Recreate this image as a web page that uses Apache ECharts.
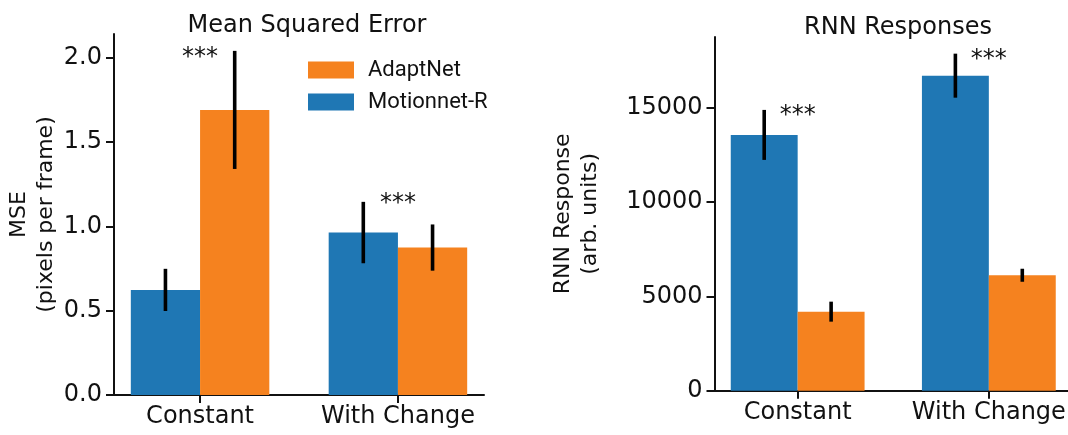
<!DOCTYPE html>
<html><head><meta charset="utf-8">
<script src="https://cdn.jsdelivr.net/npm/echarts@6/dist/echarts.min.js"></script>
<style>html,body{margin:0;padding:0;background:#fff}#c{width:1068px;height:435px}</style>
</head><body><div id="c"></div>
<script>
// ---- data ----
const categories = ['Constant', 'With Change'];
const mseMotionnet = [0.623, 0.963];
const mseMotionnetErr = [0.125, 0.182];
const mseAdaptNet = [1.690, 0.874];
const mseAdaptNetErr = [0.350, 0.137];
const mseStarLevels = [2.0, 1.134];
const rnnMotionnet = [13560, 16700];
const rnnMotionnetErr = [1325, 1167];
const rnnAdaptNet = [4190, 6120];
const rnnAdaptNetErr = [530, 345];
const rnnStarLevels = [14565, 17535];
const mseTicks = [0, 0.5, 1.0, 1.5, 2.0];
const rnnTicks = [0, 5000, 10000, 15000];
const starText = '***';

// ---- style ----
const BLUE = '#1f77b4', ORANGE = '#f5821f', INK = '#111';
const FONT = 'DejaVu Sans';
const BAR_W = 0.35;

function barRender(offset) {
  return function (params, api) {
    const xi = api.value(0), v = api.value(1);
    const p0 = api.coord([xi + offset - BAR_W / 2, 0]);
    const p1 = api.coord([xi + offset + BAR_W / 2, v]);
    return { type: 'rect',
      shape: { x: p0[0], y: p1[1], width: p1[0] - p0[0], height: p0[1] - p1[1] },
      style: { fill: api.visual('color') } };
  };
}
function errRender(offset) {
  return function (params, api) {
    const xi = api.value(0), v = api.value(1), e = api.value(2);
    const a = api.coord([xi + offset, v - e]);
    const b = api.coord([xi + offset, v + e]);
    return { type: 'line', shape: { x1: a[0], y1: a[1], x2: b[0], y2: b[1] },
      style: { stroke: '#000', lineWidth: 3.6 } };
  };
}
function starRender(params, api) {
  const p = api.coord([api.value(0), api.value(1)]);
  return { type: 'text', x: p[0], y: p[1],
    style: { text: starText, fill: INK, font: '24px "' + FONT + '"', textAlign: 'center', textVerticalAlign: 'middle' } };
}
const idx = categories.map((c, i) => i);
function pairs(vals) { return idx.map(i => [i, vals[i]]); }
function triples(vals, errs) { return idx.map(i => [i, vals[i], errs[i]]); }

function xAxis(gi) {
  return { type: 'value', gridIndex: gi, min: -0.435, max: 1.435,
    axisLine: { show: true, onZero: false, lineStyle: { color: INK, width: 2 } },
    axisTick: { show: true, length: 8, lineStyle: { color: INK, width: 2 }, customValues: [0, 1] },
    axisLabel: { customValues: [0, 1], formatter: v => categories[Math.round(v)], color: INK, fontSize: 24, fontFamily: FONT, margin: 10 },
    splitLine: { show: false } };
}
function yAxis(gi, max, ticks, fmt, name, gap) {
  return { type: 'value', gridIndex: gi, min: 0, max: max,
    name: name, nameLocation: 'middle', nameGap: gap,
    nameTextStyle: { color: INK, fontSize: 22, fontFamily: FONT, lineHeight: 27 },
    axisLine: { show: true, onZero: false, lineStyle: { color: INK, width: 2 } },
    axisTick: { show: true, length: 8, lineStyle: { color: INK, width: 2 }, customValues: ticks },
    axisLabel: { customValues: ticks, formatter: fmt, color: INK, fontSize: 24, fontFamily: FONT, margin: 12 },
    splitLine: { show: false } };
}

const chart = echarts.init(document.getElementById('c'), null, { renderer: 'canvas' });
chart.setOption({
  backgroundColor: '#fff',
  animation: false,
  title: [
    { text: 'Mean Squared Error', left: 302, top: 9, textAlign: 'center',
      textStyle: { color: INK, fontSize: 24, fontWeight: 'normal', fontFamily: FONT } },
    { text: 'RNN Responses', left: 893, top: 11, textAlign: 'center',
      textStyle: { color: INK, fontSize: 24, fontWeight: 'normal', fontFamily: FONT } }
  ],
  legend: {
    orient: 'vertical', left: 303, top: 54, itemWidth: 46, itemHeight: 17, itemGap: 10,
    icon: 'rect',
    textStyle: { color: INK, fontSize: 22, fontFamily: 'Roboto', padding: [0, 0, 0, 9] },
    data: [
      { name: 'AdaptNet', itemStyle: { color: ORANGE } },
      { name: 'Motionnet-R', itemStyle: { color: BLUE } }
    ]
  },
  grid: [
    { left: 114, top: 34, width: 370, height: 361, outerBoundsMode: 'none' },
    { left: 714.5, top: 37, width: 357.5, height: 353.7, outerBoundsMode: 'none' }
  ],
  xAxis: [xAxis(0), xAxis(1)],
  yAxis: [
    yAxis(0, 2.14, mseTicks, v => v.toFixed(1), 'MSE\n(pixels per frame)', 54),
    yAxis(1, 18750, rnnTicks, v => String(v), 'RNN Response\n(arb. units)', 111)
  ],
  series: [
    { name: 'Motionnet-R', type: 'custom', xAxisIndex: 0, yAxisIndex: 0, itemStyle: { color: BLUE },
      renderItem: barRender(-BAR_W / 2), data: pairs(mseMotionnet) },
    { name: 'AdaptNet', type: 'custom', xAxisIndex: 0, yAxisIndex: 0, itemStyle: { color: ORANGE },
      renderItem: barRender(BAR_W / 2), data: pairs(mseAdaptNet) },
    { name: 'Motionnet-R', type: 'custom', xAxisIndex: 1, yAxisIndex: 1, itemStyle: { color: BLUE },
      renderItem: barRender(-BAR_W / 2), data: pairs(rnnMotionnet) },
    { name: 'AdaptNet', type: 'custom', xAxisIndex: 1, yAxisIndex: 1, itemStyle: { color: ORANGE },
      renderItem: barRender(BAR_W / 2), data: pairs(rnnAdaptNet) },
    { type: 'custom', xAxisIndex: 0, yAxisIndex: 0, renderItem: errRender(-BAR_W / 2), data: triples(mseMotionnet, mseMotionnetErr), z: 5 },
    { type: 'custom', xAxisIndex: 0, yAxisIndex: 0, renderItem: errRender(BAR_W / 2), data: triples(mseAdaptNet, mseAdaptNetErr), z: 5 },
    { type: 'custom', xAxisIndex: 1, yAxisIndex: 1, renderItem: errRender(-BAR_W / 2), data: triples(rnnMotionnet, rnnMotionnetErr), z: 5 },
    { type: 'custom', xAxisIndex: 1, yAxisIndex: 1, renderItem: errRender(BAR_W / 2), data: triples(rnnAdaptNet, rnnAdaptNetErr), z: 5 },
    { type: 'custom', xAxisIndex: 0, yAxisIndex: 0, renderItem: starRender, data: pairs(mseStarLevels), z: 6 },
    { type: 'custom', xAxisIndex: 1, yAxisIndex: 1, renderItem: starRender, data: pairs(rnnStarLevels), z: 6 }
  ]
});
</script>
</body></html>
